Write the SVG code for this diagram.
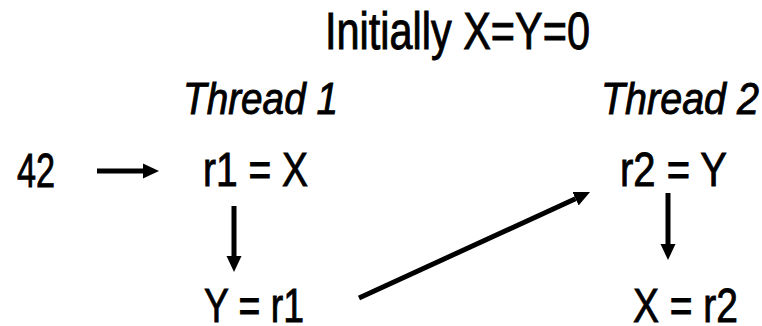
<svg xmlns="http://www.w3.org/2000/svg" width="762" height="326" viewBox="0 0 762 326">
<style>
text{font-family:"Liberation Sans Narrow","Liberation Sans",Arial,sans-serif;fill:#000;stroke:#000;stroke-width:0.9;font-size:48px}
.title{font-size:51px}
.it{font-style:italic;font-size:45px}
.edge{stroke:#000;stroke-width:5;fill:none}
</style>
<defs>
<marker id="ah" markerUnits="userSpaceOnUse" markerWidth="18" markerHeight="18" viewBox="0 -9 18 18" refX="0" refY="0" orient="auto">
<path d="M0,-7.5 L16,0 L0,7.5 z" fill="#000"/>
</marker>
</defs>
<rect width="762" height="326" fill="#fff"/>
<g id="title"><text class="title" x="325" y="49" textLength="265" lengthAdjust="spacingAndGlyphs">Initially X=Y=0</text></g>
<g id="thread1"><text class="it" x="183" y="114" textLength="155" lengthAdjust="spacingAndGlyphs">Thread 1</text></g>
<g id="thread2"><text class="it" x="601" y="114" textLength="158" lengthAdjust="spacingAndGlyphs">Thread 2</text></g>
<g id="n42"><text x="17" y="187" textLength="38" lengthAdjust="spacingAndGlyphs">42</text></g>
<g id="r1x"><text x="203" y="186" textLength="105" lengthAdjust="spacingAndGlyphs">r1 = X</text></g>
<g id="r2y"><text x="620" y="186" textLength="107" lengthAdjust="spacingAndGlyphs">r2 = Y</text></g>
<g id="yr1"><text x="204" y="322" textLength="100" lengthAdjust="spacingAndGlyphs">Y = r1</text></g>
<g id="xr2"><text x="633" y="322" textLength="105" lengthAdjust="spacingAndGlyphs">X = r2</text></g>
<g id="connectors">
<line class="edge" x1="97" y1="171" x2="143" y2="171" marker-end="url(#ah)"/>
<line class="edge" x1="234" y1="206" x2="234" y2="256" marker-end="url(#ah)"/>
<line class="edge" x1="668" y1="193" x2="668" y2="244" marker-end="url(#ah)"/>
<line class="edge" x1="359" y1="298" x2="575.5" y2="198.7" marker-end="url(#ah)"/>
</g>
</svg>
